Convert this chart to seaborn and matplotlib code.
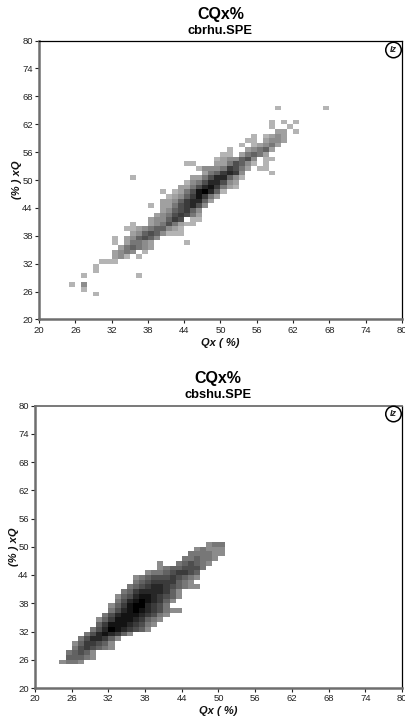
import numpy as np
import seaborn as sns
import matplotlib
matplotlib.use("Agg")
import matplotlib.pyplot as plt

W, H = 406, 718
AXIS_MIN, AXIS_MAX = 20, 80
TICKS = [20, 26, 32, 38, 44, 50, 56, 62, 68, 74, 80]

# density rows: y bin, first x bin, darkness level of each following x bin (0 = empty)
top_y = [25, 26, 27, 29, 30, 31, 32, 33, 34, 35, 36, 37, 38, 39, 40, 41, 42, 43, 44, 45,
         46, 47, 48, 49, 50, 51, 52, 53, 54, 55, 56, 57, 58, 59, 60, 61, 62, 65]
top_x0 = [29, 27, 25, 27, 29, 29, 30, 32, 32, 33, 32, 32, 35, 34, 35, 38, 39, 40, 38, 40,
          41, 40, 43, 44, 35, 47, 46, 44, 49, 50, 51, 53, 54, 55, 59, 58, 58, 59]
top_levels = [
    [1],
    [1],
    [1, 0, 3],
    [1, 0, 0, 0, 0, 0, 0, 0, 0, 1],
    [1],
    [1],
    [1, 1, 1],
    [2, 3, 1, 0, 1],
    [2, 3, 4, 3, 0, 1],
    [2, 4, 5, 4, 3, 2],
    [1, 0, 2, 4, 4, 3, 2, 0, 0, 0, 0, 0, 1],
    [1, 0, 2, 3, 5, 6, 5, 3],
    [2, 3, 5, 6, 5, 3, 1, 1, 1],
    [1, 1, 2, 3, 4, 5, 5, 3, 2, 1],
    [1, 0, 0, 2, 3, 4, 6, 4, 2, 1, 1],
    [2, 3, 3, 5, 7, 6, 0, 1, 1],
    [2, 3, 4, 6, 7, 6, 4, 2],
    [2, 3, 5, 6, 7, 5, 3],
    [1, 0, 2, 2, 4, 6, 7, 8, 6, 3],
    [2, 2, 3, 5, 7, 8, 8, 5, 2],
    [1, 2, 3, 5, 7, 9, 7, 4, 2],
    [1, 0, 1, 2, 4, 6, 9, 10, 8, 5, 1],
    [2, 2, 4, 6, 8, 9, 7, 4, 2, 1],
    [1, 3, 4, 6, 8, 8, 6, 3, 2],
    [1, 0, 0, 0, 0, 0, 0, 0, 0, 0, 2, 2, 4, 6, 8, 8, 5, 3, 1],
    [2, 4, 5, 7, 8, 7, 3, 0, 0, 0, 0, 1],
    [1, 3, 3, 3, 4, 7, 6, 4, 2, 0, 1, 1],
    [1, 1, 0, 0, 0, 2, 2, 4, 6, 5, 3, 1, 0, 1],
    [1, 2, 3, 3, 5, 6, 3, 0, 1, 1],
    [1, 1, 0, 2, 4, 5, 4, 2],
    [1, 0, 0, 2, 3, 4, 5, 2],
    [1, 0, 1, 2, 3, 4, 2],
    [1, 1, 0, 2, 3, 3, 2],
    [1, 0, 1, 2, 3, 2],
    [2, 2, 0, 1],
    [1, 0, 0, 1],
    [1, 0, 1, 0, 1],
    [1, 0, 0, 0, 0, 0, 0, 0, 1],
]

bottom_y = list(range(25, 51))
bottom_x0 = [24, 25, 25, 26, 26, 27, 28, 29, 30, 30, 31, 32, 32, 33, 33, 34, 35, 36, 36, 38,
             40, 40, 44, 45, 46, 48]
bottom_levels = [
    [3, 4, 4, 3],
    [5, 5, 5, 4, 3],
    [4, 5, 6, 5, 3],
    [4, 6, 7, 6, 5, 4, 3],
    [3, 5, 7, 7, 6, 5, 3],
    [4, 6, 8, 8, 7, 5, 3],
    [4, 6, 8, 9, 8, 7, 5, 3],
    [4, 6, 8, 10, 9, 8, 7, 6, 5, 3],
    [5, 7, 9, 9, 9, 8, 7, 6, 4, 3],
    [3, 5, 7, 9, 9, 9, 8, 7, 5, 4, 3],
    [4, 6, 8, 9, 9, 9, 8, 7, 6, 4, 3],
    [4, 6, 8, 9, 10, 9, 8, 7, 6, 4, 3, 3],
    [3, 5, 7, 9, 10, 10, 8, 7, 6, 4],
    [4, 6, 8, 9, 10, 9, 8, 7, 5, 3],
    [3, 5, 6, 8, 9, 9, 8, 7, 6, 5, 3],
    [4, 5, 7, 8, 8, 8, 8, 7, 5, 3],
    [4, 5, 6, 7, 8, 8, 7, 6, 5, 4, 3, 3],
    [4, 5, 6, 7, 7, 7, 7, 5, 4, 3],
    [3, 4, 5, 6, 6, 6, 7, 6, 5, 4, 3],
    [3, 4, 4, 5, 6, 7, 7, 6, 5],
    [3, 4, 5, 5, 6, 6, 6, 4],
    [3, 0, 0, 4, 5, 6, 5, 4, 3],
    [4, 4, 5, 4, 4, 3],
    [4, 4, 4, 4, 3, 3],
    [3, 4, 3, 3, 3],
    [3, 4, 4],
]

sns.set_theme(style="white")
plt.rcParams["font.family"] = ["Liberation Sans", "DejaVu Sans"]

cmap = sns.blend_palette(["#b4b4b4", "#585858", "#000000"], n_colors=10, as_cmap=True)


def grid_from_rows(ys, x0s, levels):
    size = AXIS_MAX - AXIS_MIN
    grid = np.zeros((size, size))
    for y, x0, row in zip(ys, x0s, levels):
        for k, v in enumerate(row):
            grid[y - AXIS_MIN, x0 - AXIS_MIN + k] = v
    return grid


def px_axes(left, top, right, bottom):
    return fig.add_axes([left / W, 1 - bottom / H, (right - left) / W, (bottom - top) / H])


def draw_panel(ax, grid, title, sub, cx, title_y, sub_y, label_y, ylabel_x, top_color, top_lw):
    sns.heatmap(grid, mask=grid == 0, cmap=cmap, vmin=1, vmax=10, cbar=False, ax=ax,
                xticklabels=False, yticklabels=False)
    ax.invert_yaxis()
    pos = [t - AXIS_MIN for t in TICKS]
    ax.set_xticks(pos)
    ax.set_yticks(pos)
    ax.set_xticklabels(TICKS, rotation=0)
    ax.set_yticklabels(TICKS, rotation=0)
    ax.tick_params(length=3, width=0.8, pad=1.5, labelsize=6.8, color="#222222",
                   labelcolor="#222222", bottom=True, left=True)
    for lab in ax.get_xticklabels():
        lab.set_clip_on(False)
    for name, sp in ax.spines.items():
        sp.set_visible(True)
        sp.set_zorder(5)
        sp.set_color("#6e6e6e" if name in ("left", "bottom") else "black")
        sp.set_linewidth(1.8 if name in ("left", "bottom") else 0.9)
    ax.spines["top"].set_color(top_color)
    ax.spines["top"].set_linewidth(top_lw)
    fig.text(cx / W, 1 - title_y / H, title, ha="center", va="center", fontsize=11.5, fontweight="bold", color="black")
    fig.text(cx / W, 1 - sub_y / H, sub, ha="center", va="center", fontsize=9.3, fontweight="bold", color="black")
    fig.text(cx / W, 1 - label_y / H, "Qx ( %)", ha="center", va="center", fontsize=8,
             fontweight="bold", fontstyle="italic", color="#111111")
    mid = (ax.get_position().y0 + ax.get_position().y1) / 2
    fig.text(ylabel_x / W, mid, "(% ) xQ", ha="center", va="center", rotation=90, fontsize=8,
             fontweight="bold", fontstyle="italic", color="#111111")


fig = plt.figure(figsize=(W / 100, H / 100), dpi=100, facecolor="white")

ax1 = px_axes(39, 40.5, 402, 319.5)
draw_panel(ax1, grid_from_rows(top_y, top_x0, top_levels), "CQx%", "cbrhu.SPE",
           220.5, 14.5, 30.5, 343, 17, "black", 0.9)

ax2 = px_axes(35, 405.5, 402, 688)
draw_panel(ax2, grid_from_rows(bottom_y, bottom_x0, bottom_levels), "CQx%", "cbshu.SPE",
           218, 379, 395, 711, 14, "#6e6e6e", 1.3)

# round badge in the top right corner of each plot
for by in (50, 414):
    fig.text(393.5 / W, 1 - by / H, "Iz", ha="center", va="center", fontsize=6.5,
             fontweight="bold", fontstyle="italic", color="#222222", zorder=10,
             bbox=dict(boxstyle="circle,pad=0.36", fc="white", ec="black", lw=1.1))

fig.savefig("out.png", dpi=100, facecolor="white")
